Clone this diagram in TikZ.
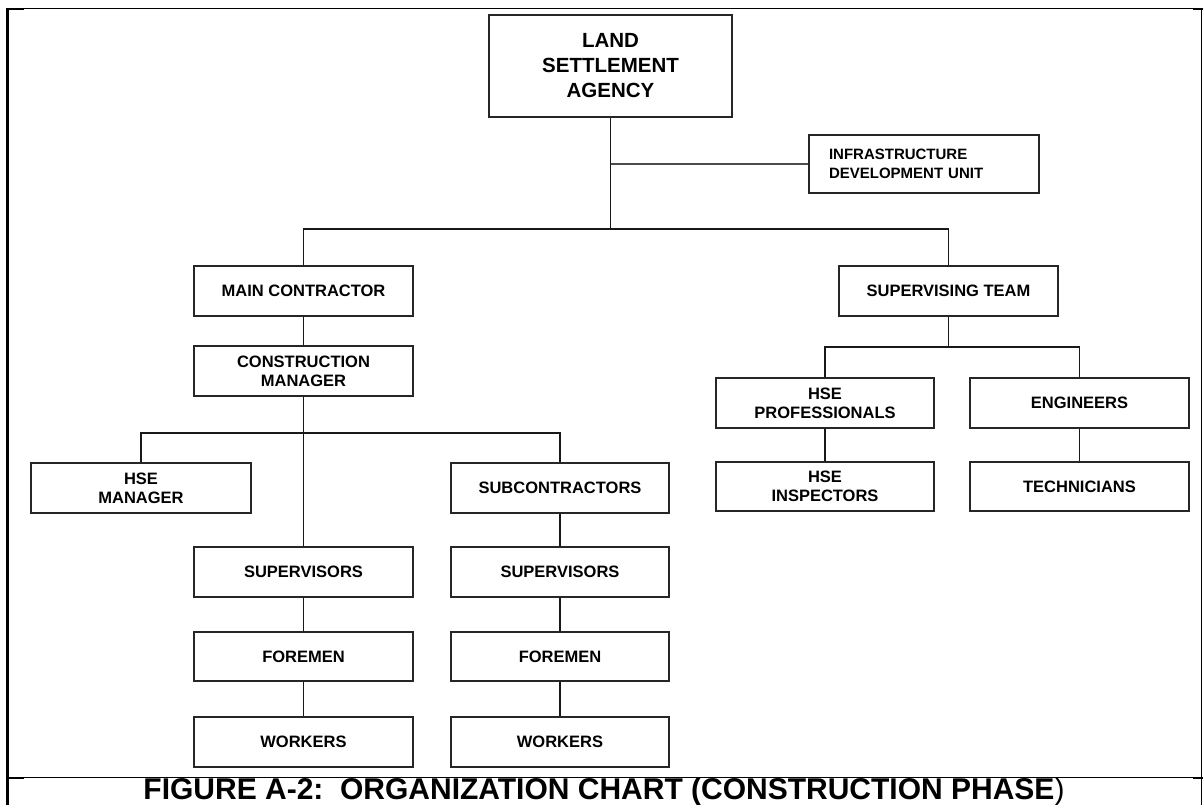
\documentclass[tikz,border=0pt]{standalone}
\usepackage{fontspec}
\setmainfont{Liberation Sans}
\begin{document}
\begin{tikzpicture}[x=1pt,y=-1pt,
  box/.style={draw=black!85,line width=1.4pt,fill=white,inner sep=0pt,
    minimum width=219pt,minimum height=50pt,align=center,
    font=\fontsize{16.5}{19}\selectfont\bfseries},
  conn/.style={draw=black!90,line width=1.4pt},
  frame/.style={draw=black,line width=1pt}]
\useasboundingbox[fill=white] (0,0) rectangle (1203,805);
% frame
\draw[frame] (7,9) -- (1203,9);
\draw[frame] (7,777) -- (1203,777);
\draw[line width=2.5pt] (7.5,8.5) -- (7.5,805);
\draw[line width=1pt] (1201.5,9) -- (1201.5,805);
\draw[line width=2pt] (7,9.5) -- (24,9.5);
\draw[line width=2pt] (1193,9.5) -- (1203,9.5);
\draw[line width=2pt] (7,777.5) -- (24,777.5);
\draw[line width=2pt] (1193,777.5) -- (1203,777.5);
% nodes
\node[box,minimum width=243pt,minimum height=102pt,
  font=\fontsize{20.5}{25}\selectfont\bfseries] (lsa) at (610.5,66) {LAND\\SETTLEMENT\\AGENCY};
\node[box,minimum width=230pt,minimum height=58pt,text width=190pt,inner xsep=20pt,align=left,
  font=\fontsize{15}{19}\selectfont\bfseries] (idu) at (924,164) {INFRASTRUCTURE\\DEVELOPMENT UNIT};
\node[box] (mc) at (303.5,291) {MAIN CONTRACTOR};
\node[box] (st) at (948.5,291) {SUPERVISING TEAM};
\node[box] (cm) at (303.5,371) {CONSTRUCTION\\MANAGER};
\node[box,minimum width=220pt] (hsem) at (141,488) {HSE\\MANAGER};
\node[box,minimum width=218pt] (sub) at (560,488) {SUBCONTRACTORS};
\node[box] (sup1) at (303.5,572) {SUPERVISORS};
\node[box,minimum width=218pt] (sup2) at (560,572) {SUPERVISORS};
\node[box,minimum height=49pt] (fore1) at (303.5,656.5) {FOREMEN};
\node[box,minimum width=218pt,minimum height=49pt] (fore2) at (560,656.5) {FOREMEN};
\node[box] (work1) at (303.5,742) {WORKERS};
\node[box,minimum width=218pt] (work2) at (560,742) {WORKERS};
\node[box,minimum width=218pt] (hsep) at (825,403) {HSE\\PROFESSIONALS};
\node[box] (eng) at (1079.5,403) {ENGINEERS};
\node[box,minimum width=218pt,minimum height=49pt] (hsei) at (825,486.5) {HSE\\INSPECTORS};
\node[box,minimum height=49pt] (tech) at (1079.5,486.5) {TECHNICIANS};
% junctions
\coordinate (bar1) at (610.5,229);
\coordinate (bar2) at (303.5,433);
\coordinate (bar3) at (948.5,347);
% connectors
\draw[conn] (lsa.south) -- (bar1);
\draw[draw=black!70,line width=2pt] (lsa.south |- idu.west) -- (idu.west);
\draw[conn] (mc.north) |- (bar1) -| (st.north);
\draw[conn] (mc.south) -- (cm.north);
\draw[conn] (cm.south) -- (bar2);
\draw[conn] (hsem.north) |- (bar2) -| (sub.north);
\draw[conn] (bar2) -- (sup1.north);
\draw[conn] (sup1.south) -- (fore1.north);
\draw[conn] (fore1.south) -- (work1.north);
\draw[conn] (sub.south) -- (sup2.north);
\draw[conn] (sup2.south) -- (fore2.north);
\draw[conn] (fore2.south) -- (work2.north);
\draw[conn] (st.south) -- (bar3);
\draw[conn] (hsep.north) |- (bar3) -| (eng.north);
\draw[conn] (hsep.south) -- (hsei.north);
\draw[conn] (eng.south) -- (tech.north);
% caption
\node[inner sep=0pt,font=\fontsize{30}{32}\selectfont] (cap) at (604,792)
  {\bfseries FIGURE A-2:\ \ ORGANIZATION CHART (CONSTRUCTION PHASE\mdseries)};
\end{tikzpicture}
\end{document}
